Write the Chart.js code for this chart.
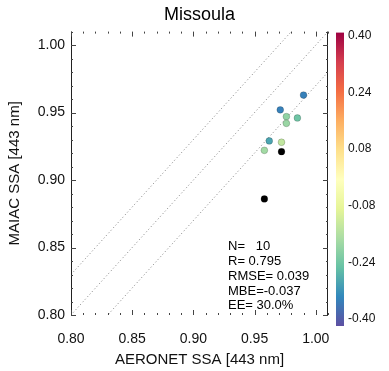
<!DOCTYPE html>
<html>
<head>
<meta charset="utf-8">
<script src="https://cdn.jsdelivr.net/npm/chart.js@4.4.0/dist/chart.umd.min.js"></script>
<style>
  html, body { margin: 0; padding: 0; background: #fff; }
</style>
</head>
<body>
<canvas id="ssa-chart" width="389" height="371"></canvas>
<script>
// values
const siteName = 'Missoula';
const aeronetSSA = [0.990, 0.971, 0.976, 0.985, 0.976, 0.962, 0.972, 0.958, 0.972, 0.958];
const maiacSSA   = [0.963, 0.952, 0.947, 0.946, 0.942, 0.929, 0.928, 0.922, 0.921, 0.886];
const colorValue = [-0.33, -0.33, -0.19, -0.23, -0.18, -0.28, -0.13, -0.17, null, null];
const xTicks = [0.80, 0.85, 0.90, 0.95, 1.00];
const yTicks = [0.80, 0.85, 0.90, 0.95, 1.00];
const cbTicks = [-0.40, -0.24, -0.08, 0.08, 0.24, 0.40];
const eeOffset = 0.03;
const lineX = [0.70, 1.05];
const statsLines = ['N=   10', 'R= 0.795', 'RMSE= 0.039', 'MBE=-0.037', 'EE= 30.0%'];

const FONT = "'Liberation Sans', Arial, sans-serif";
const spectral = ['#5e4fa2', '#3288bd', '#66c2a5', '#abdda4', '#e6f598', '#ffffbf',
                  '#fee08b', '#fdae61', '#f46d43', '#d53e4f', '#9e0142'];

function hexRgb(h) {
   return [parseInt(h.slice(1, 3), 16), parseInt(h.slice(3, 5), 16), parseInt(h.slice(5, 7), 16)];
}
function colorFor(v) {
   if (v === null) return '#000000';
   const lo = cbTicks[0], hi = cbTicks[cbTicks.length - 1];
   let t = (v - lo) / (hi - lo);
   t = Math.max(0, Math.min(1, t)) * (spectral.length - 1);
   const i = Math.min(Math.floor(t), spectral.length - 2);
   const f = t - i;
   const a = hexRgb(spectral[i]), b = hexRgb(spectral[i + 1]);
   const c = a.map((ch, k) => Math.round(ch + (b[k] - ch) * f));
   return 'rgb(' + c.join(',') + ')';
}

const points = aeronetSSA.map((x, i) => ({x: x, y: maiacSSA[i]}));
const pointColors = colorValue.map(colorFor);

function refLine(off) {
   return lineX.map(x => ({x: x, y: x + off}));
}

const lineStyle = {
   type: 'line', showLine: true, pointRadius: 0, fill: false,
   borderColor: '#808080', borderWidth: 1, borderDash: [1, 2.5], order: 2
};

const framePlugin = {
   id: 'frame',
   afterDatasetsDraw(chart) {
      const {ctx, chartArea: a, scales: {x, y}} = chart;
      ctx.save();
      ctx.strokeStyle = '#222';
      ctx.lineWidth = 1;
      ctx.beginPath();
      ctx.moveTo(a.left + 0.5, a.top); ctx.lineTo(a.left + 0.5, a.bottom);
      ctx.moveTo(a.right - 0.5, a.top); ctx.lineTo(a.right - 0.5, a.bottom);
      ctx.stroke();

      ctx.strokeStyle = '#444';
      ctx.beginPath();
      for (let i = 80; i <= 101; i++) {
         const len = i % 5 === 0 ? 5 : 2;
         const px = Math.round(x.getPixelForValue(i / 100)) + 0.5;
         ctx.moveTo(px, a.top); ctx.lineTo(px, a.top + len);
         ctx.moveTo(px, a.bottom); ctx.lineTo(px, a.bottom - len);
         const py = Math.round(y.getPixelForValue(i / 100)) + 0.5;
         ctx.moveTo(a.left, py); ctx.lineTo(a.left + len, py);
         ctx.moveTo(a.right, py); ctx.lineTo(a.right - len, py);
      }
      ctx.stroke();

      // statistics box
      ctx.fillStyle = '#000';
      ctx.font = '13px ' + FONT;
      ctx.textBaseline = 'middle';
      ctx.textAlign = 'left';
      statsLines.forEach((s, i) => {
         ctx.fillText(s, a.left + 157, a.top + 215 + i * 14.8);
      });
      ctx.restore();
   },
   afterDraw(chart) {
      const {ctx, chartArea: a, scales: {cb}} = chart;
      const top = a.top + 1, bottom = a.bottom + 11;
      const g = ctx.createLinearGradient(0, bottom, 0, top);
      spectral.forEach((c, i) => g.addColorStop(i / (spectral.length - 1), c));
      ctx.save();
      ctx.fillStyle = g;
      ctx.fillRect(cb.left + 8, top, 8, bottom - top);
      ctx.restore();
   }
};

new Chart(document.getElementById('ssa-chart'), {
   type: 'scatter',
   data: {
      datasets: [
         {
            data: points,
            pointRadius: 3.4,
            pointBackgroundColor: pointColors,
            pointBorderColor: 'rgba(0,0,0,0.3)',
            pointBorderWidth: 0.6,
            order: 1
         },
         Object.assign({data: refLine(0)}, lineStyle),
         Object.assign({data: refLine(eeOffset)}, lineStyle),
         Object.assign({data: refLine(-eeOffset)}, lineStyle)
      ]
   },
   options: {
      responsive: false,
      animation: false,
      layout: { padding: 0 },
      plugins: {
         legend: { display: false },
         tooltip: { enabled: false },
         title: {
            display: true,
            text: siteName,
            fullSize: false,
            color: '#000',
            font: { family: FONT, size: 18, weight: 'normal' },
            padding: { top: 4, bottom: 6 }
         }
      },
      scales: {
         x: {
            type: 'linear', min: 0.80, max: 1.01,
            afterBuildTicks: s => { s.ticks = xTicks.map(v => ({value: v})); },
            afterFit: s => { s.height = 56; },
            grid: { display: false, drawTicks: false },
            border: { display: false },
            ticks: {
               padding: 16, color: '#111',
               font: { family: FONT, size: 14 },
               callback: v => v.toFixed(2)
            },
            title: {
               display: true, text: 'AERONET SSA [443 nm]', color: '#111',
               font: { family: FONT, size: 15 },
               padding: { top: 0, bottom: 2 }
            }
         },
         y: {
            type: 'linear', min: 0.80, max: 1.01,
            afterBuildTicks: s => { s.ticks = yTicks.map(v => ({value: v})); },
            afterFit: s => { s.width = 71; },
            grid: { display: false, drawTicks: false },
            border: { display: false },
            ticks: {
               padding: 6, color: '#111',
               font: { family: FONT, size: 14 },
               callback: v => v.toFixed(2)
            },
            title: {
               display: true, text: 'MAIAC SSA [443 nm]', color: '#111',
               font: { family: FONT, size: 15 },
               padding: { top: 6, bottom: 0 }
            }
         },
         cb: {
            type: 'linear', position: 'right', min: -0.40, max: 0.40,
            afterBuildTicks: s => { s.ticks = cbTicks.map(v => ({value: v})); },
            afterFit: s => { s.width = 61; },
            grid: { display: false, drawTicks: false },
            border: { display: false },
            ticks: {
               padding: 20, labelOffset: 4, color: '#111',
               font: { family: FONT, size: 12 },
               callback: v => v.toFixed(2)
            }
         }
      }
   },
   plugins: [framePlugin]
});
</script>
</body>
</html>
